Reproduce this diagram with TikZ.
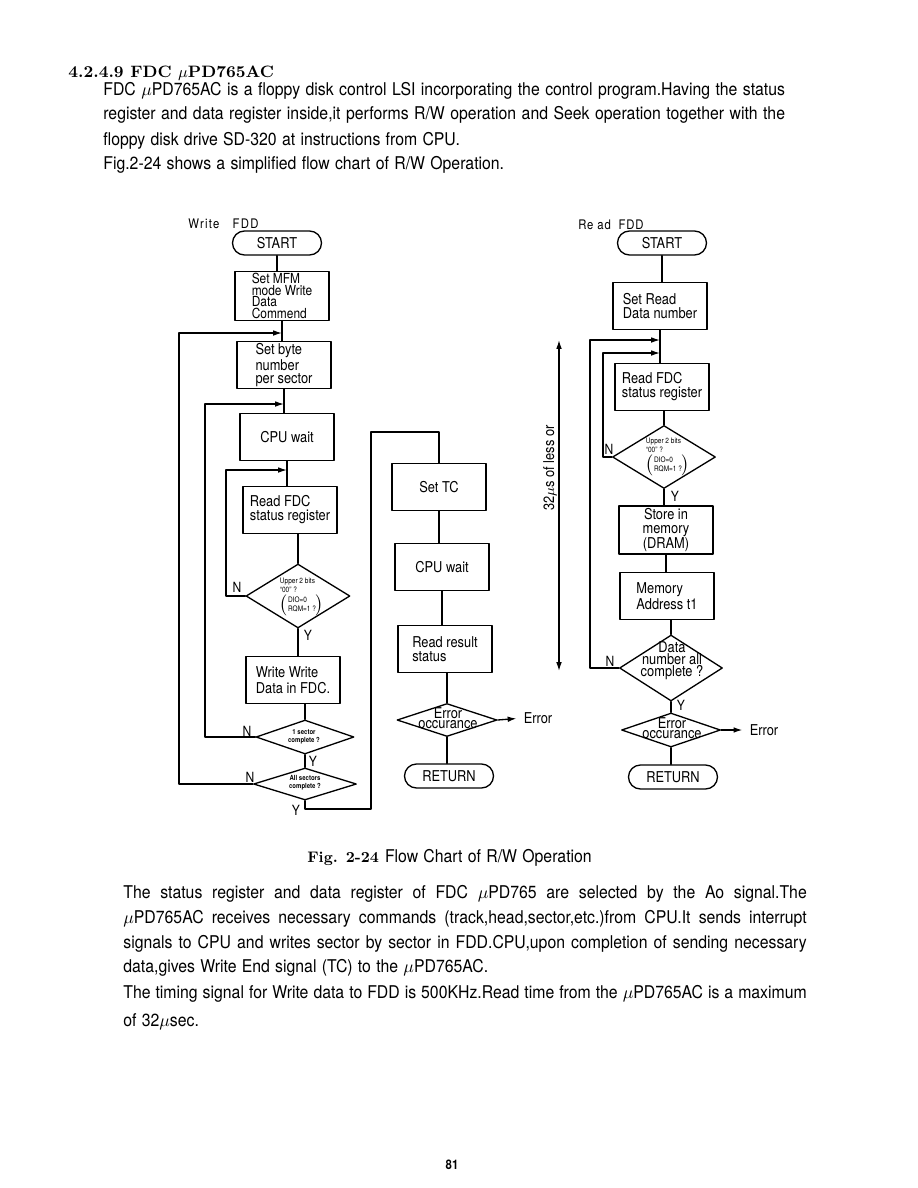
\documentclass[tikz,border=0pt]{standalone}
\usepackage{fontspec}
\setsansfont{TeX Gyre Heros}[FakeStretch=0.86]
\newfontfamily\bodysf{TeX Gyre Heros}[FakeStretch=0.9,WordSpace=1.2]
\usetikzlibrary{shapes.geometric,arrows.meta}
\newcommand{\bodyfont}{\bodysf\fontsize{10}{12}\selectfont}
\newcommand{\jline}[2]{\makebox[#1][s]{#2}}
\newcommand{\diotext}{Upper 2 bits\\``00'' ?\\$\left(\mbox{\begin{tabular}{@{}l@{}}DIO=0\\RQM=1 ?\end{tabular}}\right)$}
\begin{document}
\begin{tikzpicture}[x=0.02cm,y=-0.02cm,line cap=round,line join=round,
  proc/.style={draw,line width=0.75pt,minimum width=1.88cm,minimum height=0.94cm,inner sep=1pt,align=left,font=\sffamily\fontsize{8.5}{8}\selectfont},
  term/.style={draw,line width=0.75pt,rounded corners=0.24cm,minimum width=1.78cm,minimum height=0.48cm,inner sep=0pt,font=\sffamily\fontsize{8.5}{9}\selectfont},
  dec/.style={draw,line width=0.75pt,diamond,inner sep=0pt},
  dectxt/.style={inner sep=0pt,align=center,font=\sffamily\fontsize{8.5}{6}\selectfont},
  tinytxt/.style={inner sep=0pt,align=left,font=\sffamily\fontsize{4.3}{5.3}\selectfont},
  yn/.style={inner sep=0pt,font=\sffamily\fontsize{8}{9}\selectfont},
  body/.style={inner sep=0pt,anchor=base west,font=\bodyfont},
  flow/.style={line width=0.75pt},
  into/.style={line width=0.75pt,-{Latex[length=5pt,width=3.2pt]}}]
  \useasboundingbox (0,0) rectangle (918,1188);
  % text above the chart
  \node[body,font=\rmfamily\bfseries\fontsize{9.4}{11}\selectfont] (head) at (68,77) {4.2.4.9 FDC $\mu$PD765AC};
  \node[body] (pa1) at (103,95) {\jline{388pt}{FDC $\mu$PD765AC is a floppy disk control LSI incorporating the control program.Having the status}};
  \node[body] (pa2) at (103,119) {\jline{388pt}{register and data register inside,it performs R/W operation and Seek operation together with the}};
  \node[body] (pa3) at (103,145) {floppy disk drive SD-320 at instructions from CPU.};
  \node[body] (pa4) at (103,169) {Fig.2-24 shows a simplified flow chart of R/W Operation.};

  % write FDD
  \node[yn,anchor=west,font=\sffamily\fontsize{7.5}{9}\selectfont\addfontfeatures{LetterSpace=10}] (wtitle) at (188,224) {Write\quad FDD};
  \node[term] (wstart) at (277,243) {START};
  \node[proc,minimum height=0.98cm,font=\sffamily\fontsize{7.9}{5.9}\selectfont] (wmfm) at (282,296) {Set MFM\\mode Write\\Data\\Commend};
  \node[proc,font=\sffamily\fontsize{8.5}{7.4}\selectfont] (wbyte) at (284,365) {Set byte\\number\\per sector};
  \node[proc] (wwait) at (287,437) {CPU wait};
  \node[proc] (wread) at (290,510) {Read FDC\\status register};
  \node[dec,minimum width=2.08cm,minimum height=1.28cm] (wdio) at (298,596) {};
  \node[tinytxt] (wdiot) at (302,597) {\diotext};
  \node[proc,font=\sffamily\fontsize{8.5}{9}\selectfont] (wwrite) at (293,680) {Write Write\\Data in FDC.};
  \node[dec,minimum width=1.96cm,minimum height=0.68cm] (wsec) at (305,737) {};
  \node[tinytxt,align=center,font=\sffamily\bfseries\fontsize{4}{4.6}\selectfont] (wsect) at (304,737) {1 sector\\complete ?};
  \node[dec,minimum width=2.06cm,minimum height=0.64cm] (wall) at (305,784) {};
  \node[tinytxt,align=center,font=\sffamily\bfseries\fontsize{4}{4.6}\selectfont] (wallt) at (305,783) {All sectors\\complete ?};
  \node[yn] (wdion) at (237,587) {N};
  \node[yn] (wdioy) at (308,635) {Y};
  \node[yn] (wsecn) at (247,731) {N};
  \node[yn] (wsecy) at (313,761) {Y};
  \node[yn] (walln) at (250,777) {N};
  \node[yn] (wally) at (296,810) {Y};
  \draw[flow] (wstart.south) -- (wstart.south |- wmfm.north);
  \draw[flow] (wmfm.south) -- (wmfm.south |- wbyte.north);
  \draw[flow] (wbyte.south) -- (wbyte.south |- wwait.north);
  \draw[flow] (wwait.south) -- (wwait.south |- wread.north);
  \draw[flow] (wdio.north |- wread.south) -- (wdio.north);
  \draw[flow] (wdio.south) -- (wdio.south |- wwrite.north);
  \draw[flow] (wsec.north |- wwrite.south) -- (wsec.north);
  \draw[flow] (wsec.south) -- (wall.north);
  \coordinate (wlo) at (179,333);
  \coordinate (wlm) at (205,404);
  \coordinate (wli) at (226,470);
  \draw[into] (wall.west) -| (wlo) -- (wmfm.south |- wlo);
  \draw[into] (wsec.west) -| (wlm) -- (wbyte.south |- wlm);
  \draw[into] (wdio.west) -| (wli) -- (wwait.south |- wli);

  % end of write, TC
  \node[proc,align=center] (tc) at (439,487) {Set TC};
  \node[proc,align=center] (mwait) at (442,567) {CPU wait};
  \node[proc] (mres) at (445,649) {Read result\\status};
  \node[dec,minimum width=2cm,minimum height=0.66cm] (merr) at (447,720) {};
  \node[dectxt] (merrt) at (448,718) {Error\\occurance};
  \node[yn,font=\sffamily\fontsize{8.5}{9}\selectfont] (merro) at (538,718) {Error};
  \node[term] (mret) at (449,776) {RETURN};
  \coordinate (wmb) at (371,809);
  \coordinate (wmt) at (371,432);
  \draw[flow] (wall.south) |- (wmb) -- (wmt) -| (tc.north);
  \draw[flow] (tc.south) -- (tc.south |- mwait.north);
  \draw[flow] (mwait.south) -- (mwait.south |- mres.north);
  \draw[flow] (merr.north |- mres.south) -- (merr.north);
  \draw[into,shorten >=4pt] (merr.east) -- (merro.west);
  \draw[flow] (merr.south) -- (merr.south |- mret.north);

  % time span
  \coordinate (tt) at (559,340);
  \coordinate (tb) at (559,671);
  \draw[line width=0.75pt,{Latex[length=5pt,width=3.2pt]}-{Latex[length=5pt,width=3.2pt]}] (tt) -- (tb);
  \node[rotate=90,inner sep=0pt,font=\sffamily\fontsize{8.5}{9}\selectfont] (tlab) at (550,468) {32$\mu$s of less or};

  % read FDD
  \node[yn,anchor=west,font=\sffamily\fontsize{7.5}{9}\selectfont\addfontfeatures{LetterSpace=6}] (rtitle) at (578,225) {Re ad\ \ FDD};
  \node[term] (rstart) at (662,243) {START};
  \node[proc] (rset) at (660,306) {Set Read\\Data number};
  \node[proc] (rread) at (662,387) {Read FDC\\status register};
  \node[dec,minimum width=2.06cm,minimum height=1.26cm] (rdio) at (664,457) {};
  \node[tinytxt] (rdiot) at (668,457) {\diotext};
  \node[proc,align=center] (rstore) at (666,530) {Store in\\memory\\(DRAM)};
  \node[proc] (raddr) at (667,596) {Memory\\Address t1};
  \node[dec,minimum width=2.06cm,minimum height=1.32cm] (rall) at (671,668) {};
  \node[dectxt,font=\sffamily\fontsize{8.5}{6.8}\selectfont] (rallt) at (672,661) {Data\\number all\\complete ?};
  \node[dec,minimum width=1.98cm,minimum height=0.68cm] (rerr) at (671,730) {};
  \node[dectxt] (rerrt) at (672,728) {Error\\occurance};
  \node[yn,font=\sffamily\fontsize{8.5}{9}\selectfont] (rerro) at (764,730) {Error};
  \node[term] (rret) at (673,777) {RETURN};
  \node[yn] (rdion) at (609,449) {N};
  \node[yn] (rdioy) at (675,496) {Y};
  \node[yn] (ralln) at (610,661) {N};
  \node[yn] (rally) at (681,705) {Y};
  \draw[flow] (rstart.south) -- (rstart.south |- rset.north);
  \draw[flow] (rset.south) -- (rset.south |- rread.north);
  \draw[flow] (rdio.north |- rread.south) -- (rdio.north);
  \draw[flow] (rdio.south) -- (rdio.south |- rstore.north);
  \draw[flow] (rstore.south) -- (rstore.south |- raddr.north);
  \draw[flow] (rall.north |- raddr.south) -- (rall.north);
  \draw[flow] (rall.south) -- (rerr.north);
  \draw[into,shorten >=4pt] (rerr.east) -- (rerro.west);
  \draw[flow] (rerr.south) -- (rerr.south |- rret.north);
  \coordinate (rlo) at (590,340);
  \coordinate (rli) at (603,353);
  \draw[into] (rall.west) -| (rlo) -- (rset.south |- rlo);
  \draw[into] (rdio.west) -| (rli) -- (rset.south |- rli);

  % caption and text below
  \node[body,font=\rmfamily\bfseries\fontsize{8.7}{11}\selectfont] (capfig) at (307,862) {Fig. 2-24};
  \node[body,xshift=3pt] (captxt) at (capfig.base east) {Flow Chart of R/W Operation};
  \node[body] (pb1) at (123,898) {\jline{389pt}{The status register and data register of FDC $\mu$PD765 are selected by the Ao signal.The}};
  \node[body] (pb2) at (123,923) {\jline{389pt}{$\mu$PD765AC receives necessary commands (track,head,sector,etc.)from CPU.It sends interrupt}};
  \node[body] (pb3) at (123,948) {\jline{389pt}{signals to CPU and writes sector by sector in FDD.CPU,upon completion of sending necessary}};
  \node[body] (pb4) at (123,972) {data,gives Write End signal (TC) to the $\mu$PD765AC.};
  \node[body] (pb5) at (123,998) {\jline{389pt}{The timing signal for Write data to FDD is 500KHz.Read time from the $\mu$PD765AC is a maximum}};
  \node[body] (pb6) at (123,1026) {of 32$\mu$sec.};
  \node[inner sep=0pt,font=\sffamily\bfseries\fontsize{7.5}{9}\selectfont] (pageno) at (452,1165) {81};
\end{tikzpicture}
\end{document}
